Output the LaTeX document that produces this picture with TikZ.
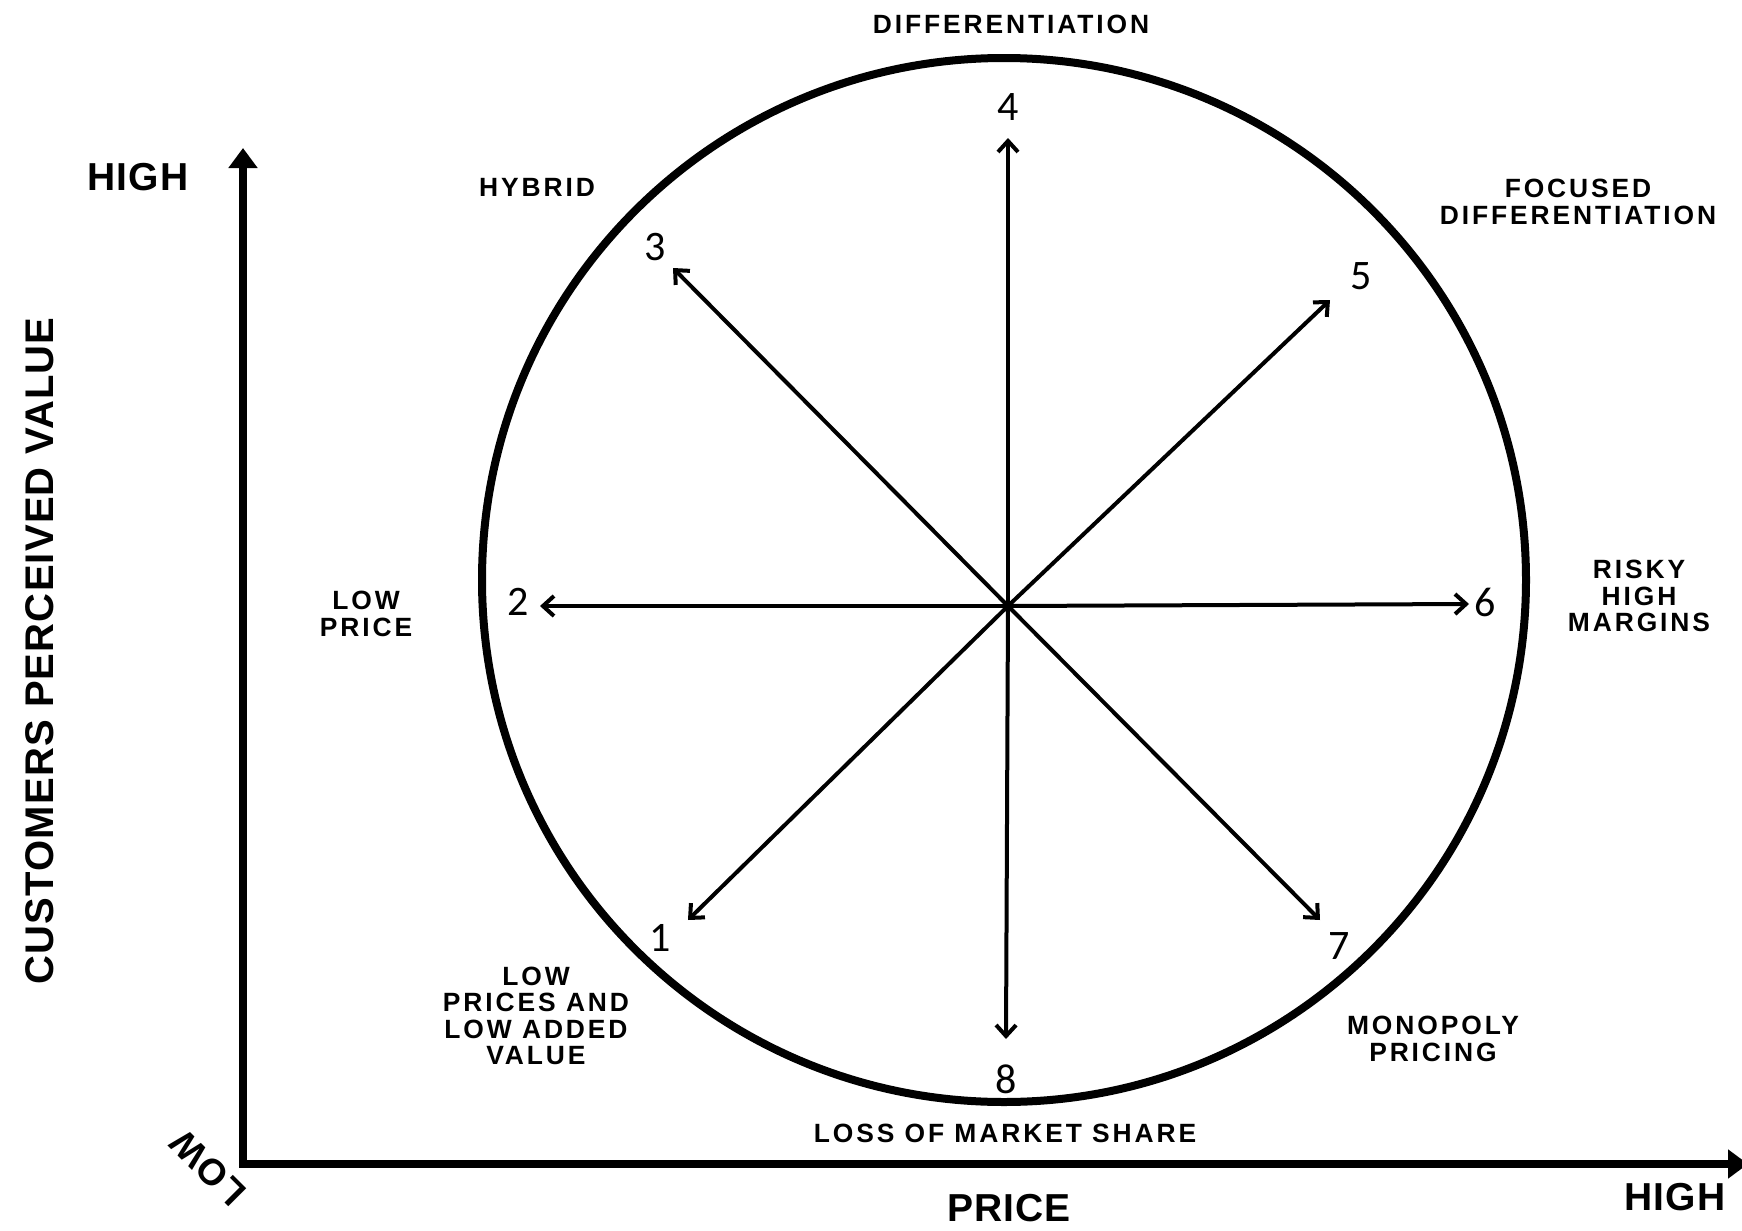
\documentclass[tikz,border=0pt]{standalone}
\usepackage{fontspec}
\setmainfont{Liberation Sans}
\newfontfamily\tagfont[LetterSpace=11]{Liberation Sans}
\newfontfamily\axisfont[LetterSpace=3]{Liberation Sans}
\newfontfamily\numfont{Carlito}
\usetikzlibrary{arrows.meta}

\begin{document}
\begin{tikzpicture}[
    x=0.5pt, y=-0.5pt,
    tag/.style={
        align=center,
        inner sep=0pt,
        font=\tagfont\bfseries\fontsize{13.2}{13.3}\selectfont
    },
    axislabel/.style={
        align=center,
        inner sep=0pt,
        font=\axisfont\bfseries\fontsize{19.5}{22}\selectfont
    },
    num/.style={
        inner sep=0pt,
        font=\numfont\fontsize{21}{21}\selectfont
    },
    ray/.style={
        line width=2pt,
        line cap=round,
        -{Straight Barb[length=5.5pt,width=10pt]}
    },
    axis/.style={
        line width=4pt,
        line join=miter,
        {Triangle[length=10pt,width=14pt]}-{Triangle[length=10pt,width=14pt]}
    }
]
\useasboundingbox (0,0) rectangle (1742,1231);

% circle
\draw[line width=4pt] (1004,580) circle [radius=522];

% axes
\coordinate (origin) at (243,1164);
\coordinate (ytop) at (243,148);
\coordinate (xend) at (1748,1164);
\draw[axis] (ytop) -- (origin) -- (xend);

\node[axislabel] (yhigh) at (138,177) {HIGH};
\node[axislabel] (xhigh) at (1675,1197) {HIGH};
\node[axislabel] (price) at (1009,1208) {PRICE};
\node[axislabel, font=\axisfont\bfseries\fontsize{18.5}{22}\selectfont, rotate=135] (low) at (208,1168) {LOW};
\node[axislabel, font=\axisfont\bfseries\fontsize{20}{22}\selectfont, rotate=90] (value) at (40,651)
{CUSTOMERS PERCEIVED VALUE};

% rays from the centre
\coordinate (centre) at (1008,606);
\coordinate (tip1) at (688,920);
\coordinate (tip2) at (540,606);
\coordinate (tip3) at (673,268);
\coordinate (tip4) at (1008,138);
\coordinate (tip5) at (1330,300);
\coordinate (tip6) at (1469,604);
\coordinate (tip7) at (1320,920);
\coordinate (tip8) at (1006,1039);

\draw[ray] (centre) -- (tip1);
\draw[ray] (centre) -- (tip2);
\draw[ray] (centre) -- (tip3);
\draw[ray] (centre) -- (tip4);
\draw[ray] (centre) -- (tip5);
\draw[ray] (centre) -- (tip6);
\draw[ray] (centre) -- (tip7);
\draw[ray] (centre) -- (tip8);

% numbers
\node[num] (n1) at (660,938) {1};
\node[num] (n2) at (518,602) {2};
\node[num] (n3) at (655,247) {3};
\node[num] (n4) at (1008,107) {4};
\node[num] (n5) at (1361,276) {5};
\node[num] (n6) at (1485,602) {6};
\node[num] (n7) at (1339,946) {7};
\node[num] (n8) at (1006,1079) {8};

% strategies
\node[tag] (lowadded) at (536,1016) {LOW\\PRICES AND\\LOW ADDED\\VALUE};
\node[tag] (lowprice) at (366,614) {LOW\\PRICE};
\node[tag] (hybrid) at (537,187) {HYBRID};
\node[tag] (diff) at (1011,24) {DIFFERENTIATION};
\node[tag] (focused) at (1578,202) {FOCUSED\\DIFFERENTIATION};
\node[tag] (risky) at (1639,596) {RISKY\\HIGH\\MARGINS};
\node[tag] (monopoly) at (1433,1039) {MONOPOLY\\PRICING};
\node[tag] (loss) at (1005,1133) {LOSS OF MARKET SHARE};

\end{tikzpicture}
\end{document}
